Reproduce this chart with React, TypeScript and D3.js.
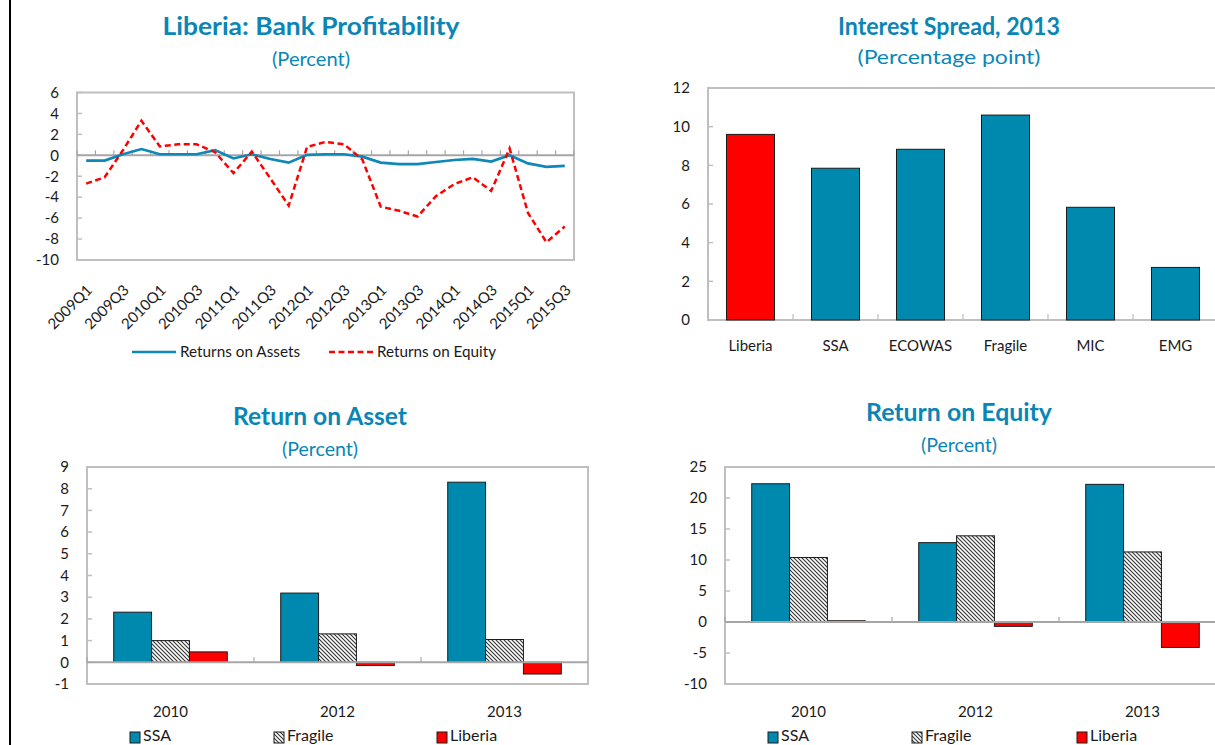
import React from 'react';
import * as d3 from 'd3';

// ---------- DATA ----------
const quarters = [
  '2009Q1','2009Q2','2009Q3','2009Q4','2010Q1','2010Q2','2010Q3','2010Q4',
  '2011Q1','2011Q2','2011Q3','2011Q4','2012Q1','2012Q2','2012Q3','2012Q4',
  '2013Q1','2013Q2','2013Q3','2013Q4','2014Q1','2014Q2','2014Q3','2014Q4',
  '2015Q1','2015Q2','2015Q3',
];
const returnsOnAssets = [
  -0.5, -0.5, 0.1, 0.6, 0.1, 0.1, 0.1, 0.5, -0.3, 0.1, -0.35, -0.7, 0.05, 0.1,
  0.1, -0.13, -0.7, -0.85, -0.85, -0.64, -0.45, -0.35, -0.6, 0.0, -0.77, -1.1, -1.0,
];
const returnsOnEquity = [
  -2.7, -2.1, 0.5, 3.3, 0.85, 1.05, 1.05, 0.3, -1.7, 0.35, -2.2, -4.8, 0.8, 1.28,
  1.06, -0.4, -4.9, -5.3, -5.85, -3.9, -2.75, -2.1, -3.4, 0.65, -5.5, -8.3, -6.8,
];
const lineTicks = [6, 4, 2, 0, -2, -4, -6, -8, -10];

const spreadCats = ['Liberia', 'SSA', 'ECOWAS', 'Fragile', 'MIC', 'EMG'];
const spreadVals = [9.6, 7.85, 8.83, 10.6, 5.83, 2.72];
const spreadTicks = [0, 2, 4, 6, 8, 10, 12];

const years = ['2010', '2012', '2013'];
const groupSeries = ['SSA', 'Fragile', 'Liberia'];
const roaSSA = [2.31, 3.19, 8.3];
const roaFragile = [1.0, 1.31, 1.05];
const roaLiberia = [0.48, -0.15, -0.54];
const roaTicks = [-1, 0, 1, 2, 3, 4, 5, 6, 7, 8, 9];
const roeSSA = [22.3, 12.8, 22.2];
const roeFragile = [10.4, 13.9, 11.3];
const roeLiberia = [0.2, -0.7, -4.1];
const roeTicks = [-10, -5, 0, 5, 10, 15, 20, 25];

// ---------- STYLE ----------
const FONT = "Lato, 'Open Sans', sans-serif";
const TITLE = '#0A86B6';
const TEAL = '#0089AF';
const RED = '#FF0000';
const FRAME = '#BFBFBF';
const ZERO = '#A6A6A6';
const TXT = '#1a1a1a';

function fillFor(s: string) {
  if (s === 'SSA') return TEAL;
  if (s === 'Fragile') return 'url(#hatch)';
  return RED;
}

function Titles({ cx, title, sub, ty, sy, tw, sw }: any) {
  return (
    <g fontFamily={FONT} fill={TITLE} textAnchor="middle">
      <text x={cx} y={ty} fontSize={24} fontWeight={700} textLength={tw} lengthAdjust="spacingAndGlyphs">{title}</text>
      <text x={cx} y={sy} fontSize={20} textLength={sw} lengthAdjust="spacingAndGlyphs">{sub}</text>
    </g>
  );
}

function YAxis({ y, ticks, x0, x1, y0, y1 }: any) {
  return (
    <g>
      <rect x={x0} y={y0} width={x1 - x0} height={y1 - y0} fill="none" stroke={FRAME} strokeWidth={2} />
      {ticks.map((t: number) => (
        <g key={t}>
          <line x1={x0} x2={x0 + 5} y1={y(t)} y2={y(t)} stroke={FRAME} strokeWidth={1.5} />
          <text x={x0 - 18} y={y(t)} dy="0.35em" textAnchor="end" fontFamily={FONT} fontSize={15} fill={TXT}>{t}</text>
        </g>
      ))}
    </g>
  );
}

function LineChart() {
  const x0 = 77, x1 = 574, y0 = 92.5, y1 = 260;
  const x = d3.scaleBand<string>().domain(quarters).range([x0, x1]);
  const y = d3.scaleLinear().domain([-10, 6]).range([y1, y0]);
  const cx = (q: string) => (x(q) as number) + x.bandwidth() / 2;
  const line = d3.line<number>().x((_, i) => cx(quarters[i])).y((d) => y(d));
  const bounds = quarters.map((q) => x(q) as number).concat([x1]);
  return (
    <g>
      <Titles cx={311} title="Liberia:  Bank Profitability" sub="(Percent)" ty={35} sy={66} tw={297} sw={78} />
      <YAxis y={y} ticks={lineTicks} x0={x0} x1={x1} y0={y0} y1={y1} />
      <line x1={x0} x2={x1} y1={y(0)} y2={y(0)} stroke={ZERO} strokeWidth={2} />
      {bounds.map((b, i) => (
        <line key={i} x1={b} x2={b} y1={y(0)} y2={y(0) - 5} stroke={ZERO} strokeWidth={1.2} />
      ))}
      <path d={line(returnsOnAssets) || ''} fill="none" stroke="#0E87B9" strokeWidth={2.7} />
      <path d={line(returnsOnEquity) || ''} fill="none" stroke={RED} strokeWidth={2.5} strokeDasharray="6,3.5" />
      {quarters.map((q, i) =>
        i % 2 === 0 ? (
          <text key={q} transform={`translate(${cx(q) + 7},${291}) rotate(-45)`} textAnchor="end"
            fontFamily={FONT} fontSize={15} fill={TXT}>{q}</text>
        ) : null
      )}
      <g fontFamily={FONT} fontSize={15} fill={TXT}>
        <line x1={132} x2={176} y1={352} y2={352} stroke="#0E87B9" strokeWidth={2.5} />
        <text x={180} y={357} textLength={120} lengthAdjust="spacingAndGlyphs">Returns on Assets</text>
        <line x1={329} x2={373} y1={352} y2={352} stroke={RED} strokeWidth={2.5} strokeDasharray="6,3.5" />
        <text x={377} y={357} textLength={119} lengthAdjust="spacingAndGlyphs">Returns on Equity</text>
      </g>
    </g>
  );
}

function SpreadChart() {
  const x0 = 708, x1 = 1218, y0 = 88, y1 = 320;
  const x = d3.scaleBand<string>().domain(spreadCats).range([x0, x1]).paddingInner(0.435).paddingOuter(0.2175);
  const y = d3.scaleLinear().domain([0, 12]).range([y1, y0]);
  const step = (x1 - x0) / spreadCats.length;
  return (
    <g>
      <Titles cx={949} title="Interest Spread, 2013" sub="(Percentage point)" ty={35} sy={64} tw={222} sw={183} />
      <YAxis y={y} ticks={spreadTicks} x0={x0} x1={x1} y0={y0} y1={y1} />
      {spreadCats.map((c, i) => (
        <rect key={c} x={x(c)} y={y(spreadVals[i])} width={x.bandwidth()} height={y(0) - y(spreadVals[i])}
          fill={c === 'Liberia' ? RED : TEAL} stroke="#1a1a1a" strokeWidth={1} />
      ))}
      {spreadCats.map((c, i) => (
        <line key={c} x1={x0 + step * i} x2={x0 + step * i} y1={y1} y2={y1 - 6} stroke={FRAME} strokeWidth={1.2} />
      ))}
      {spreadCats.map((c) => (
        <text key={c} x={(x(c) as number) + x.bandwidth() / 2} y={351} textAnchor="middle" fontFamily={FONT} fontSize={15} fill={TXT}>{c}</text>
      ))}
    </g>
  );
}

function GroupChart({ x0, x1, y0, y1, domain, ticks, data, title, sub, cx, ty, sy, tw, sw, legendX }: any) {
  const x = d3.scaleBand<string>().domain(years).range([x0, x1]).paddingInner(0.32).paddingOuter(0.16);
  const xi = d3.scaleBand<string>().domain(groupSeries).range([0, x.bandwidth()]);
  const y = d3.scaleLinear().domain(domain).range([y1, y0]);
  const step = (x1 - x0) / years.length;
  return (
    <g>
      <Titles cx={cx} title={title} sub={sub} ty={ty} sy={sy} tw={tw} sw={sw} />
      <YAxis y={y} ticks={ticks} x0={x0} x1={x1} y0={y0} y1={y1} />
      {years.map((yr, gi) =>
        groupSeries.map((s, si) => {
          const v = data[si][gi];
          return (
            <rect key={yr + s} x={(x(yr) as number) + (xi(s) as number)} y={y(Math.max(0, v))}
              width={xi.bandwidth()} height={Math.abs(y(v) - y(0))} fill={fillFor(s)} stroke="#1a1a1a" strokeWidth={1} />
          );
        })
      )}
      <line x1={x0} x2={x1} y1={y(0)} y2={y(0)} stroke={ZERO} strokeWidth={2} />
      {years.map((yr, i) => (
        <line key={yr} x1={x0 + step * i} x2={x0 + step * i} y1={y(0)} y2={y(0) - 5} stroke={ZERO} strokeWidth={1.2} />
      ))}
      {years.map((yr) => (
        <text key={yr} x={(x(yr) as number) + x.bandwidth() / 2} y={717} textAnchor="middle" fontFamily={FONT} fontSize={15} fill={TXT}>{yr}</text>
      ))}
      {groupSeries.map((s, i) => (
        <g key={s}>
          <rect x={legendX[i]} y={732} width={10} height={11} fill={fillFor(s)} stroke="#1a1a1a" strokeWidth={1} />
          <text x={legendX[i] + 13} y={741} fontFamily={FONT} fontSize={16} fill={TXT}>{s}</text>
        </g>
      ))}
    </g>
  );
}

export default function App() {
  return (
    <svg width={1215} height={745} style={{ position: 'absolute', left: 0, top: 0, background: '#fff' }}>
      <defs>
        <pattern id="hatch" patternUnits="userSpaceOnUse" width={4} height={4}>
          <rect width={4} height={4} fill="#fff" />
          <path d="M-1,-1 L5,5 M-1,3 L1,5 M3,-1 L5,1" stroke="#333" strokeWidth={1.1} />
        </pattern>
      </defs>
      <rect width={1215} height={745} fill="#fff" />
      <rect x={9} y={0} width={2} height={745} fill="#000" />
      <LineChart />
      <SpreadChart />
      <GroupChart x0={87} x1={588} y0={467} y1={684} domain={[-1, 9]} ticks={roaTicks}
        data={[roaSSA, roaFragile, roaLiberia]} title="Return on Asset" sub="(Percent)"
        cx={320} ty={425} sy={456} tw={174} sw={76} legendX={[130, 274, 437]} />
      <GroupChart x0={725} x1={1226} y0={467} y1={684} domain={[-10, 25]} ticks={roeTicks}
        data={[roeSSA, roeFragile, roeLiberia]} title="Return on Equity" sub="(Percent)"
        cx={959} ty={421} sy={452} tw={186} sw={76} legendX={[768, 912, 1077]} />
    </svg>
  );
}
